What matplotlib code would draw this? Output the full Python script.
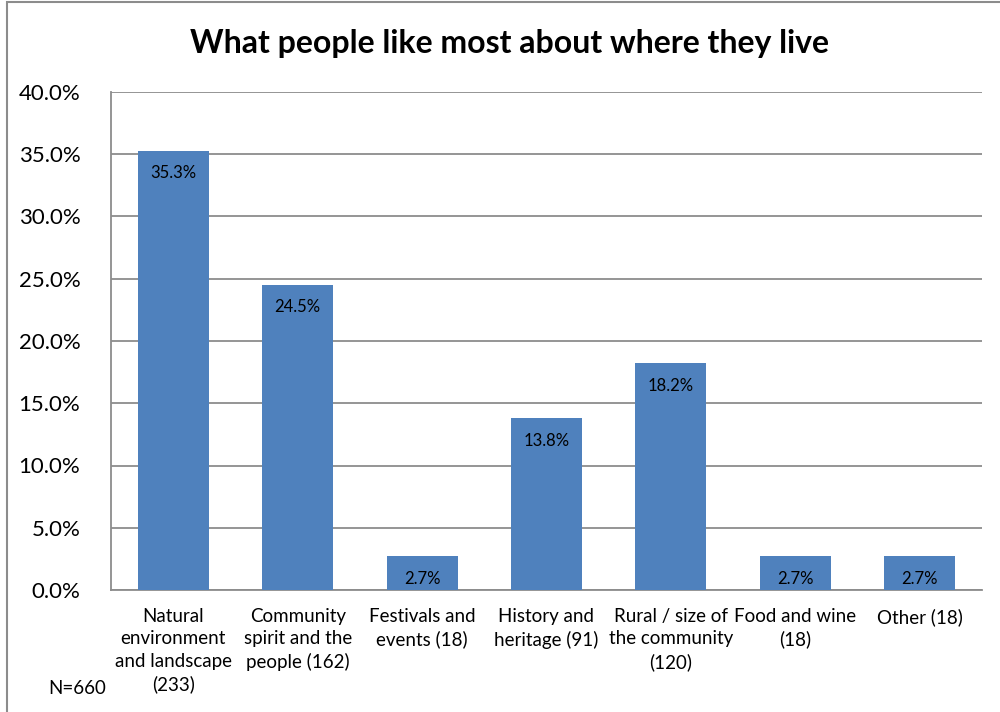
import matplotlib.pyplot as plt
from matplotlib.patches import Rectangle
import numpy as np

plt.rcParams["font.family"] = ["Lato", "DejaVu Sans"]

# ---- data ----
categories = [
    "Natural\nenvironment\nand landscape\n(233)",
    "Community\nspirit and the\npeople (162)",
    "Festivals and\nevents (18)",
    "History and\nheritage (91)",
    "Rural / size of\nthe community\n(120)",
    "Food and wine\n(18)",
    "Other (18)",
]
shares = [35.3, 24.5, 2.7, 13.8, 18.2, 2.7, 2.7]
y_ticks = [0, 5, 10, 15, 20, 25, 30, 35, 40]

BAR_COLOR = "#4F81BD"
GRID_COLOR = "#8C8C8C"

fig = plt.figure(figsize=(10, 7.12), dpi=100, facecolor="white")
ax = fig.add_axes([0.111, 1 - 590 / 712, 0.871, (590 - 92) / 712])

x = np.arange(len(categories))
ax.bar(x, shares, width=0.57, color=BAR_COLOR, zorder=3)

for xi, v in zip(x, shares):
    ax.text(xi, v - 1.8, f"{v:.1f}%", ha="center", va="center",
            fontsize=12, color="black", zorder=4)

ax.set_xlim(-0.5, len(categories) - 0.5)
ax.set_ylim(0, 40)
ax.set_yticks(y_ticks)
ax.set_yticklabels([f"{t:.1f}%" for t in y_ticks], fontsize=16)
ax.set_xticks(x)
ax.set_xticklabels(categories, fontsize=13.5, linespacing=1.38, va="top")
ax.tick_params(axis="both", length=0)
ax.tick_params(axis="y", pad=22)
ax.tick_params(axis="x", pad=13)

ax.yaxis.grid(True, color=GRID_COLOR, linewidth=1.3, zorder=0)
ax.set_axisbelow(True)
for side in ["top", "right"]:
    ax.spines[side].set_visible(False)
for side in ["left", "bottom"]:
    ax.spines[side].set_color(GRID_COLOR)
    ax.spines[side].set_linewidth(1.3)

fig.text(0.51, 1 - 43 / 712, "What people like most about where they live",
         ha="center", va="center", fontsize=23, fontweight="bold")
fig.text(0.048, 1 - 689 / 712, "N=660", ha="left", va="center", fontsize=13.5)

# chart frame
fig.patches.append(Rectangle((0.007, -0.05), 1.2, 1.047, transform=fig.transFigure,
                             fill=False, edgecolor="#8C8C8C", linewidth=1.5))

fig.savefig("out.png", dpi=100, facecolor="white")
